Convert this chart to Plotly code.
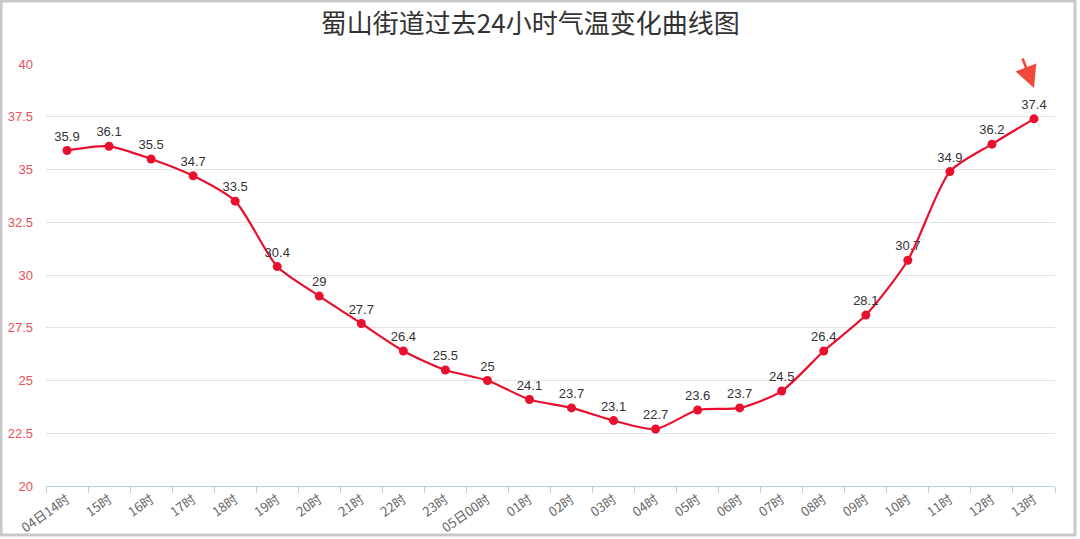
import plotly.graph_objects as go

hours = ["04日14时", "15时", "16时", "17时", "18时", "19时", "20时", "21时", "22时", "23时",
         "05日00时", "01时", "02时", "03时", "04时", "05时", "06时", "07时", "08时", "09时",
         "10时", "11时", "12时", "13时"]
temps = [35.9, 36.1, 35.5, 34.7, 33.5, 30.4, 29, 27.7, 26.4, 25.5, 25, 24.1,
         23.7, 23.1, 22.7, 23.6, 23.7, 24.5, 26.4, 28.1, 30.7, 34.9, 36.2, 37.4]
y_ticks = [20, 22.5, 25, 27.5, 30, 32.5, 35, 37.5, 40]

red = "#e8102e"
font_cn = "Noto Sans CJK SC, Liberation Sans, sans-serif"

fig = go.Figure()
fig.add_trace(go.Scatter(
    x=hours, y=temps, mode="lines+markers+text",
    line=dict(color=red, width=2.2, shape="spline", smoothing=0.7),
    marker=dict(color=red, size=9),
    text=[f"{v:g}" for v in temps], textposition="top center",
    textfont=dict(family="Liberation Sans, Arial, sans-serif", size=13, color="#333333"),
    cliponaxis=False, showlegend=False,
))

# red arrow pointing at the latest value
fig.add_annotation(
    x=hours[-1], y=38.86, xref="x", yref="y", ax=-12, ay=-31,
    showarrow=True, arrowhead=2, arrowsize=1.7, arrowwidth=2.6, arrowcolor="#f04a3c", text="",
)

# frame around the screenshot
fig.add_shape(type="rect", xref="paper", yref="paper",
              x0=-0.0446, x1=1.0198, y0=-0.1161, y1=1.1493,
              line=dict(color="#c8c8c8", width=3), fillcolor="rgba(0,0,0,0)")

fig.update_layout(
    width=1080, height=539,
    margin=dict(l=46, r=25, t=64, b=53, autoexpand=False),
    paper_bgcolor="white", plot_bgcolor="white",
    title=dict(text="蜀山街道过去24小时气温变化曲线图", x=0.491, xref="container",
               y=0.955, yref="container", xanchor="center", yanchor="middle",
               font=dict(family=font_cn, size=26, color="#333333")),
    xaxis=dict(
        type="category", range=[-0.5, 23.5], showgrid=False, automargin=False,
        showline=True, linecolor="#b9cde0", linewidth=1,
        ticks="outside", tickson="boundaries", ticklen=6, tickcolor="#b9cde0",
        tickangle=-35, tickfont=dict(family=font_cn, size=13, color="#666666"),
    ),
    yaxis=dict(
        range=[20, 40], tickvals=y_ticks, ticktext=[f"{v:g}" for v in y_ticks],
        showgrid=True, gridcolor="#e3e3e3", gridwidth=1, zeroline=False, automargin=False,
        showline=False, ticks="", ticklabelstandoff=12,
        tickfont=dict(family="Liberation Sans, Arial, sans-serif", size=13, color="#e8505b"),
    ),
)

fig.write_html("out.html", config={"displayModeBar": False},
               post_script="document.body.style.margin='0';")
